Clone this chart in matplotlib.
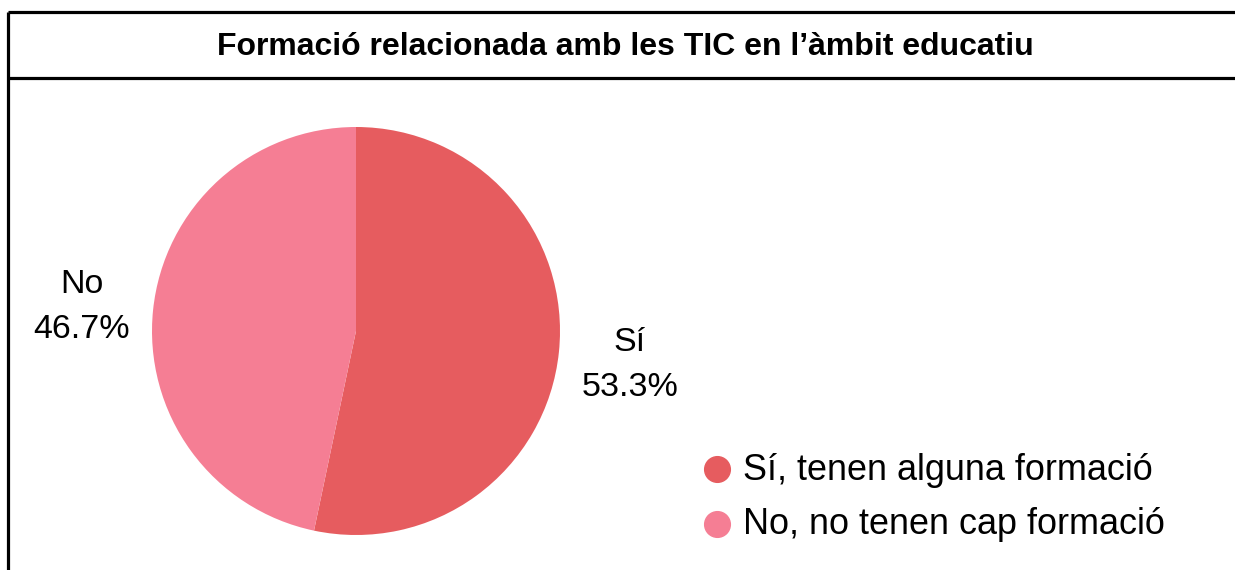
import matplotlib
matplotlib.use("Agg")
import matplotlib.pyplot as plt
from matplotlib.lines import Line2D

categories = ["Sí", "No"]
values = [53.3, 46.7]
legend_labels = ["Sí, tenen alguna formació", "No, no tenen cap formació"]
colors = ["#E65C5F", "#F57E94"]
title = "Formació relacionada amb les TIC en l’àmbit educatiu"

W, H = 1235, 570
fig = plt.figure(figsize=(W / 100, H / 100), dpi=100)
plt.rcParams['font.family'] = ['Liberation Sans', 'DejaVu Sans']

def fx(x):
    return x / W

def fy(y):
    return 1 - y / H

# frame lines
for (x0, y0, x1, y1) in [(8, 12, 1240, 12), (8, 78, 1240, 78), (8, 12, 8, 575)]:
    fig.add_artist(Line2D([fx(x0), fx(x1)], [fy(y0), fy(y1)], transform=fig.transFigure,
                          color="black", lw=2.3, solid_capstyle="butt"))

fig.text(fx(625), fy(47), title, ha="center", va="center", fontsize=23, fontweight="bold")

# pie axes: center (356, 331), radius 204
cx, cy, r = 356, 331, 204
ax = fig.add_axes([fx(cx - r), fy(cy + r), (2 * r) / W, (2 * r) / H])
ax.pie(values, colors=colors, startangle=90, counterclock=False, radius=1.0,
       wedgeprops=dict(linewidth=0))
ax.set_xlim(-1, 1)
ax.set_ylim(-1, 1)
ax.set_aspect("auto")
ax.axis("off")

# outside labels
label_pos = [(630, 365), (82, 307)]
for cat, v, (lx, ly) in zip(categories, values, label_pos):
    fig.text(fx(lx), fy(ly), f"{cat}\n{v:.1f}%", ha="center", va="center",
             fontsize=24.5, linespacing=1.55)

# legend
leg_y = [470, 525]
for lab, col, y in zip(legend_labels, colors, leg_y):
    fig.add_artist(Line2D([fx(717)], [fy(y - 1)], transform=fig.transFigure, marker="o",
                          markersize=18.5, color=col, linestyle="none"))
    fig.text(fx(743), fy(y), lab, ha="left", va="center", fontsize=25.9)

fig.savefig("out.png", dpi=100)
